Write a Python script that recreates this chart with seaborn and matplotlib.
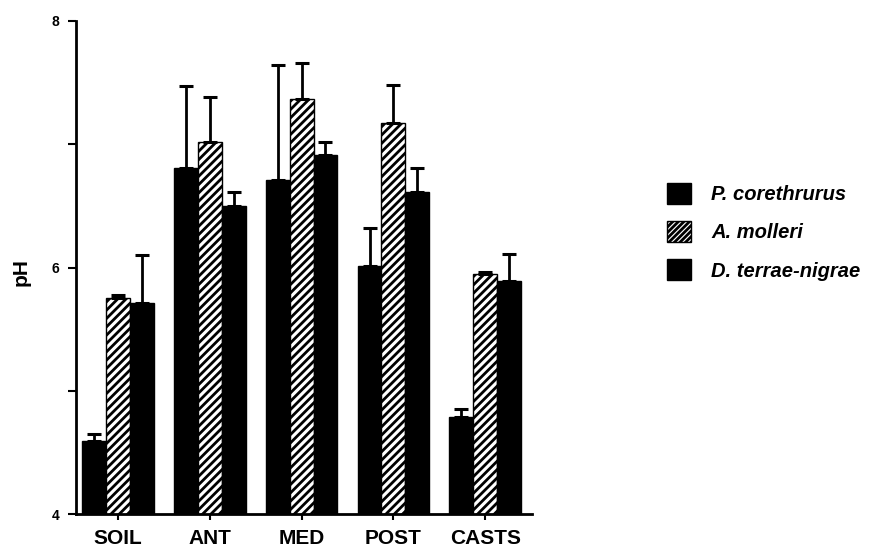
import pandas as pd
import numpy as np
import matplotlib
matplotlib.use("Agg")
import matplotlib.pyplot as plt
from matplotlib.patches import Patch
import seaborn as sns

# pH along the gut
sites = ['SOIL', 'ANT', 'MED', 'POST', 'CASTS']
species = ['P. corethrurus', 'A. molleri', 'D. terrae-nigrae']

p_cor = [4.59, 6.81, 6.71, 6.01, 4.79]
p_cor_err = [0.06, 0.66, 0.93, 0.31, 0.06]
a_mol = [5.75, 7.02, 7.37, 7.17, 5.95]
a_mol_err = [0.03, 0.36, 0.29, 0.31, 0.01]
d_ter = [5.71, 6.50, 6.91, 6.61, 5.89]
d_ter_err = [0.39, 0.11, 0.11, 0.20, 0.22]

y_ticks = [4, 5, 6, 7, 8]
y_ticklabels = ['4', '', '6', '', '8']

values = [p_cor, a_mol, d_ter]
errors = [p_cor_err, a_mol_err, d_ter_err]

df = pd.DataFrame({
    'site': sites * 3,
    'species': np.repeat(species, len(sites)),
    'pH': np.concatenate(values),
})

sns.set_theme(style='ticks')
plt.rcParams['font.family'] = ['Liberation Sans', 'DejaVu Sans']
plt.rcParams['hatch.linewidth'] = 2.0
plt.rcParams['hatch.color'] = 'black'
for key in ['text.color', 'axes.labelcolor', 'xtick.color', 'ytick.color', 'axes.edgecolor']:
    plt.rcParams[key] = 'black'

fig = plt.figure(figsize=(8.81, 5.53), dpi=100)
ax = fig.add_axes([76 / 881, 1 - 514 / 553, (532 - 76) / 881, (514 - 21) / 553])

sns.barplot(data=df, x='site', y='pH', hue='species', hue_order=species,
            palette=['black', 'white', 'black'], edgecolor='black',
            linewidth=1, width=0.78, errorbar=None, legend=False,
            saturation=1, ax=ax)

bar_conts = list(ax.containers)
for i, cont in enumerate(bar_conts):
    xs = [b.get_x() + b.get_width() / 2 for b in cont]
    ys = [b.get_height() for b in cont]
    if i == 1:
        for b in cont:
            b.set_hatch('////')
    ax.errorbar(xs, ys, yerr=[np.zeros(len(ys)), errors[i]], fmt='none',
                ecolor='black', elinewidth=2, capsize=5, capthick=2.2,
                zorder=1)

ax.set_ylim(4, 8)
ax.set_xlim(-0.458, 4.51)
ax.set_yticks(y_ticks)
ax.set_yticklabels(y_ticklabels, fontsize=10, fontweight='bold')
ax.tick_params(axis='y', direction='out', length=6, width=1.5, pad=6)
ax.tick_params(axis='x', direction='out', length=4, width=1.5, pad=7)
for lab in ax.get_xticklabels():
    lab.set_fontsize(15)
    lab.set_fontweight('bold')

sns.despine(ax=ax)
ax.spines['left'].set_linewidth(2)
ax.spines['bottom'].set_linewidth(2)

ax.set_xlabel('')
ax.set_ylabel('pH', fontsize=15, fontweight='bold')
ax.yaxis.set_label_coords(-0.10, 0.49)

handles = [Patch(facecolor='black', edgecolor='black'),
           Patch(facecolor='white', edgecolor='black', hatch='//////'),
           Patch(facecolor='black', edgecolor='black')]
fig.legend(handles, species, loc='upper left',
           bbox_to_anchor=(667 / 881, 1 - 183 / 553), frameon=False,
           borderpad=0, borderaxespad=0, handlelength=1.2, handleheight=1.2,
           handletextpad=1.0, labelspacing=0.85,
           prop={'family': 'Liberation Sans', 'weight': 'bold',
                 'style': 'italic', 'size': 14.5})

fig.savefig('out.png', dpi=100)
